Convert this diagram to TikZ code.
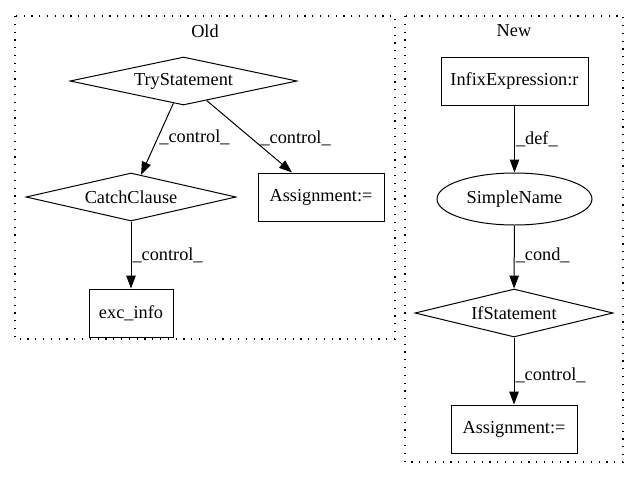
\documentclass[tikz,border=0pt]{standalone}
\usepackage{fontspec}
\setmainfont{Liberation Serif}
\usetikzlibrary{shapes.geometric,arrows.meta}

\begin{document}
\begin{tikzpicture}[x=1pt,y=-1pt,
  every node/.style={font=\fontsize{18.3}{21}\selectfont},
  box/.style={rectangle,draw,line width=1pt,minimum height=48pt,inner sep=0pt},
  dia/.style={diamond,draw,line width=1pt,aspect=4.7,minimum height=48pt,inner sep=0pt},
  oval/.style={ellipse,draw,line width=1pt,inner sep=0pt},
  cluster/.style={draw,line width=1.2pt,dash pattern=on 1.2pt off 6.6pt},
  flow/.style={-{Triangle[length=13pt,width=9.5pt]},line width=1pt},
  lbl/.style={anchor=west,inner sep=1pt}]
\useasboundingbox (0,0) rectangle (640,480);

% clusters
\draw[cluster] (15,16) rectangle (395,339);
\node (old) at (205,31) {Old};
\draw[cluster] (405,16) rectangle (623,462);
\node (new) at (514,31) {New};

% old version
\node [dia, minimum width=227pt] (try) at (183.5,81) {TryStatement};
\node [dia, minimum width=210pt] (catch) at (131,197) {CatchClause};
\node [box, minimum width=126pt] (assignold) at (321,197) {Assignment:=};
\node [box, minimum width=84pt] (excinfo) at (131,313) {exc\_info};

% new version
\node [box, minimum width=147pt] (infix) at (514.5,81) {InfixExpression:r};
\node [oval, minimum width=155pt, minimum height=52pt] (simple) at (514.5,199) {SimpleName};
\node [dia, minimum width=198pt] (ifstmt) at (514,313) {IfStatement};
\node [box, minimum width=126pt] (assignnew) at (514,429) {Assignment:=};

\draw[flow] (try) -- node[lbl, pos=0.48] {\_control\_} (catch);
\draw[flow] (try) -- node[lbl, pos=0.52, xshift=8pt] {\_control\_} (assignold);
\draw[flow] (catch) -- node[lbl, pos=0.5] {\_control\_} (excinfo);
\draw[flow] (infix) -- node[lbl, pos=0.51] {\_def\_} (simple);
\draw[flow] (simple) -- node[lbl, pos=0.47] {\_cond\_} (ifstmt);
\draw[flow] (ifstmt) -- node[lbl, pos=0.56] {\_control\_} (assignnew);
\end{tikzpicture}
\end{document}
